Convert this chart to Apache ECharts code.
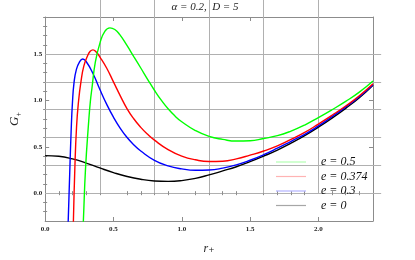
<!DOCTYPE html>
<html><head><meta charset="utf-8">
<script src="https://cdn.jsdelivr.net/npm/echarts@6/dist/echarts.min.js"></script>
<style>html,body{margin:0;padding:0;background:#fff}#c{width:415px;height:260px}</style>
</head><body><div id="c"></div>
<script>
// ---- data ----
const seriesNames = ['e = 0.5', 'e = 0.374', 'e = 0.3', 'e = 0'];
const green05 = [[0.27,-0.6],[0.28,-0.29],[0.295,0.25],[0.319,0.78],[0.331,0.99],[0.343,1.137],[0.367,1.41],[0.402,1.624],[0.438,1.748],[0.474,1.783],[0.51,1.765],[0.545,1.712],[0.6,1.59],[0.65,1.47],[0.7,1.35],[0.75,1.228],[0.8,1.11],[0.85,1.003],[0.9,0.91],[0.95,0.833],[1.0,0.77],[1.1,0.675],[1.2,0.612],[1.3,0.58],[1.4,0.562],[1.5,0.565],[1.6,0.59],[1.7,0.62],[1.8,0.67],[1.9,0.735],[2.0,0.815],[2.1,0.9],[2.2,0.99],[2.3,1.09],[2.4,1.21]];
const red0374 = [[0.202,-0.6],[0.207,-0.29],[0.217,0.25],[0.23,0.72],[0.245,1.0],[0.262,1.2],[0.283,1.37],[0.31,1.48],[0.33,1.53],[0.35,1.546],[0.375,1.52],[0.4,1.47],[0.45,1.35],[0.5,1.2],[0.55,1.05],[0.6,0.91],[0.65,0.8],[0.7,0.71],[0.75,0.635],[0.8,0.572],[0.9,0.47],[1.0,0.4],[1.1,0.36],[1.2,0.342],[1.3,0.345],[1.4,0.37],[1.5,0.41],[1.6,0.455],[1.7,0.51],[1.8,0.58],[1.9,0.655],[2.0,0.745],[2.1,0.84],[2.2,0.94],[2.3,1.05],[2.4,1.18]];
const blue03 = [[0.162,-0.6],[0.169,-0.29],[0.18,0.22],[0.19,0.66],[0.2,0.98],[0.212,1.2],[0.228,1.33],[0.25,1.41],[0.275,1.447],[0.3,1.42],[0.35,1.29],[0.4,1.12],[0.45,0.96],[0.5,0.82],[0.55,0.7],[0.6,0.6],[0.65,0.52],[0.7,0.455],[0.8,0.355],[0.9,0.295],[1.0,0.262],[1.1,0.247],[1.2,0.25],[1.3,0.27],[1.4,0.305],[1.5,0.355],[1.6,0.415],[1.7,0.485],[1.8,0.56],[1.9,0.635],[2.0,0.725],[2.1,0.825],[2.2,0.93],[2.3,1.04],[2.4,1.17]];
const black0 = [[0,0.405],[0.1,0.398],[0.2,0.37],[0.3,0.325],[0.4,0.272],[0.5,0.222],[0.6,0.18],[0.7,0.15],[0.8,0.132],[0.9,0.127],[1.0,0.136],[1.1,0.16],[1.2,0.197],[1.3,0.24],[1.4,0.285],[1.5,0.34],[1.6,0.4],[1.7,0.465],[1.8,0.54],[1.9,0.62],[2.0,0.712],[2.1,0.81],[2.2,0.915],[2.3,1.03],[2.4,1.165]];
const xLabels = [0, 0.5, 1.0, 1.5, 2.0];
const xMinor = [0.1,0.2,0.3,0.4,0.6,0.7,0.8,0.9,1.1,1.2,1.3,1.4,1.6,1.7,1.8,1.9,2.1,2.2,2.3];
const xGrid = [0.4, 0.8, 1.2, 1.6, 2.0];
const yLabels = [0, 0.5, 1.0, 1.5];
const yMinor = [-0.2,-0.1,0.1,0.2,0.3,0.4,0.6,0.7,0.8,0.9,1.1,1.2,1.3,1.4,1.6,1.7,1.8,1.9];
const yGrid = [0, 0.3, 0.6, 0.9, 1.2, 1.5];
const colors = ['#00ff00', '#ff0000', '#0000ff', '#000000'];
const legendColors = ['#b3ffb3', '#ffb3b3', '#b3b3ff', '#a6a6a6'];

// ---- layout ----
const G = {left: 37, top: 17, width: 336, height: 208};
const XMIN = 0, XMAX = 2.4, YMIN = -0.3, YMAX = 1.9;
const frame = '#8c8c8c';
const gridCol = '#b0b0b0';
const serif = '"Liberation Serif","DejaVu Serif",serif';

function xAx(o) {
  return Object.assign({type: 'value', min: XMIN, max: XMAX, gridIndex: 0,
    axisLine: {show: false}, splitLine: {show: false}, axisLabel: {show: false},
    axisTick: {show: false}}, o);
}
function yAx(o) {
  return Object.assign({type: 'value', min: YMIN, max: YMAX, gridIndex: 0,
    axisLine: {show: false}, splitLine: {show: false}, axisLabel: {show: false},
    axisTick: {show: false}}, o);
}
const tickStyle = {color: frame, width: 1};
const labelStyle = {show: true, fontFamily: serif, fontWeight: 'bold', fontSize: 7, color: '#222',
  formatter: v => Number(v).toFixed(1)};

// legend drawn as graphic elements (pale lines + italic labels)
const legendGraphics = [];
seriesNames.forEach((n, i) => {
  const y = 162 + i * 14.5;
  legendGraphics.push({type: 'line', shape: {x1: 276, y1: y, x2: 306, y2: y},
    style: {stroke: legendColors[i], lineWidth: 1.2}, z: 10});
  legendGraphics.push({type: 'text', x: 321, y: y, z: 10,
    style: {text: n, font: 'italic 12px ' + serif, fill: '#111', textVerticalAlign: 'middle'}});
});

const option = {
  animation: false,
  grid: G,
  graphic: [
    {type: 'text', x: 205, y: 7, style: {text: 'α = 0.2,  D = 5', font: 'italic 11px ' + serif, fill: '#222', textAlign: 'center', textVerticalAlign: 'middle'}}
  ].concat(legendGraphics),
  xAxis: [
    xAx({position: 'bottom', axisLine: {show: true, onZero: false, lineStyle: {color: frame}},
      axisLabel: Object.assign({customValues: xLabels, margin: 5}, labelStyle),
      axisTick: {show: true, inside: true, length: 4, customValues: xLabels, lineStyle: tickStyle},
      name: 'r₊', nameLocation: 'middle', nameGap: 22,
      nameTextStyle: {fontFamily: serif, fontStyle: 'italic', fontSize: 12, color: '#222'}}),
    xAx({position: 'bottom', axisTick: {show: true, inside: true, length: 2, customValues: xMinor, lineStyle: tickStyle}}),
    xAx({position: 'top', axisLine: {show: true, onZero: false, lineStyle: {color: frame}},
      axisTick: {show: true, inside: true, length: 4, customValues: xLabels, lineStyle: tickStyle}}),
    xAx({position: 'top', axisTick: {show: true, inside: true, length: 2, customValues: xMinor, lineStyle: tickStyle}}),
    xAx({position: 'bottom', axisTick: {show: true, inside: true, length: G.height, customValues: xGrid, lineStyle: {color: gridCol, width: 1}}})
  ],
  yAxis: [
    yAx({position: 'left', axisLine: {show: true, onZero: false, lineStyle: {color: frame}},
      axisLabel: Object.assign({customValues: yLabels, margin: 3}, labelStyle),
      axisTick: {show: true, inside: true, length: 4, customValues: yLabels, lineStyle: tickStyle},
      name: '{g|G}{s|+}', nameLocation: 'middle', nameGap: 21, nameRotate: 90,
      nameTextStyle: {rich: {g: {fontFamily: serif, fontStyle: 'italic', fontSize: 13, color: '#222'},
        s: {fontFamily: serif, fontSize: 8, color: '#222', padding: [8, 0, 0, 0]}}}}),
    yAx({position: 'left', axisTick: {show: true, inside: true, length: 2, customValues: yMinor, lineStyle: tickStyle}}),
    yAx({position: 'right', axisLine: {show: true, onZero: false, lineStyle: {color: frame}},
      axisTick: {show: true, inside: true, length: 4, customValues: yLabels, lineStyle: tickStyle}}),
    yAx({position: 'right', axisTick: {show: true, inside: true, length: 2, customValues: yMinor, lineStyle: tickStyle}}),
    yAx({position: 'left', axisTick: {show: true, inside: true, length: G.width, customValues: yGrid, lineStyle: {color: gridCol, width: 1}}})
  ],
  series: [green05, red0374, blue03, black0].map((d, i) => ({
    name: seriesNames[i], type: 'line', data: d, xAxisIndex: 0, yAxisIndex: 0,
    symbol: 'none', smooth: 0.5, clip: true,
    lineStyle: {color: colors[i], width: 1.4}, itemStyle: {color: colors[i]}, z: 5 - i
  }))
};
const chart = echarts.init(document.getElementById('c'), null, {renderer: 'canvas'});
chart.setOption(option);
</script></body></html>
